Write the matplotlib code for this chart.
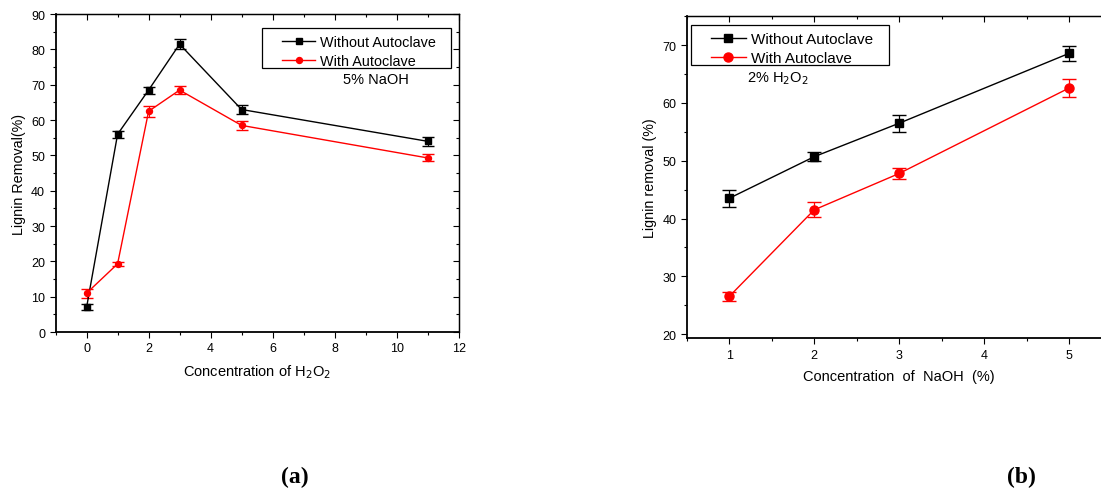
import matplotlib.pyplot as plt
from matplotlib.patches import Rectangle
from matplotlib.ticker import MultipleLocator

# panel (a): H2O2 series at 5% NaOH
h2o2_conc = [0, 1, 2, 3, 5, 11]
a_without = [7.0, 56.0, 68.5, 81.5, 63.0, 54.0]
a_without_err = [0.8, 1.0, 1.0, 1.5, 1.2, 1.2]
a_with = [11.0, 19.3, 62.5, 68.5, 58.5, 49.3]
a_with_err = [1.3, 0.5, 1.5, 1.2, 1.3, 1.0]

# panel (b): NaOH series at 2% H2O2
naoh_conc = [1, 2, 3, 5]
b_without = [43.5, 50.7, 56.5, 68.6]
b_without_err = [1.5, 0.8, 1.5, 1.3]
b_with = [26.5, 41.5, 47.8, 62.6]
b_with_err = [0.8, 1.3, 1.0, 1.6]

plt.rcParams["font.family"] = ["Liberation Sans", "DejaVu Sans"]

fig = plt.figure(figsize=(11.01, 4.89), dpi=100)
ax1 = fig.add_axes([0.0505, 0.319, 0.366, 0.650])
ax2 = fig.add_axes([0.6237, 0.306, 0.386, 0.6585])


def style_axes(ax, xmaj, xmin, ymaj, ymin):
    for side in ["left", "bottom"]:
        ax.spines[side].set_linewidth(1.3)
    for side in ["top", "right"]:
        ax.spines[side].set_linewidth(0.9)
    ax.xaxis.set_major_locator(MultipleLocator(xmaj))
    ax.xaxis.set_minor_locator(MultipleLocator(xmin))
    ax.yaxis.set_major_locator(MultipleLocator(ymaj))
    ax.yaxis.set_minor_locator(MultipleLocator(ymin))
    ax.tick_params(which="both", direction="out", labelsize=9, width=0.8)
    ax.tick_params(which="major", length=4)
    ax.tick_params(which="minor", length=2.5)
    # inward ticks on top and right, like the Origin frame
    top = ax.secondary_xaxis("top")
    right = ax.secondary_yaxis("right")
    top.xaxis.set_major_locator(MultipleLocator(xmaj))
    top.xaxis.set_minor_locator(MultipleLocator(xmin))
    right.yaxis.set_major_locator(MultipleLocator(ymaj))
    right.yaxis.set_minor_locator(MultipleLocator(ymin))
    for sec in (top, right):
        sec.tick_params(which="both", direction="in", width=0.8, labeltop=False,
                        labelright=False)
        sec.tick_params(which="major", length=4)
        sec.tick_params(which="minor", length=2.5)
        for sp in sec.spines.values():
            sp.set_linewidth(0.9)


def legend_box(ax, handles, labels, x0, y0, x1, y1, hx, hy, fs):
    ax.add_patch(Rectangle((x0, y1), x1 - x0, y0 - y1, transform=ax.transAxes,
                           fill=False, edgecolor="black", linewidth=0.9, zorder=5))
    ax.legend(handles, labels, loc="upper left", bbox_to_anchor=(hx, hy), fontsize=fs,
              frameon=False, handlelength=2.3, handletextpad=0.35, borderpad=0,
              borderaxespad=0, labelspacing=0.3, numpoints=1)


e1 = ax1.errorbar(h2o2_conc, a_without, yerr=a_without_err, color="black", marker="s",
                  markersize=3.8, linewidth=1, capsize=4, elinewidth=0.8)
e2 = ax1.errorbar(h2o2_conc, a_with, yerr=a_with_err, color="red", marker="o",
                  markersize=4.3, linewidth=1, capsize=4, elinewidth=0.8)
ax1.set_xlim(-1, 12)
ax1.set_ylim(0, 90)
style_axes(ax1, 2, 1, 10, 5)
ax1.set_xlabel("Concentration of H$_2$O$_2$", fontsize=10.5, labelpad=6)
ax1.set_ylabel("Lignin Removal(%)", fontsize=10.3)
legend_box(ax1, [e1[0], e2[0]], ["Without Autoclave", "With Autoclave"],
           0.513, 0.958, 0.981, 0.832, 0.562, 0.933, 10.4)
ax1.text(0.713, 0.795, "5% NaOH", transform=ax1.transAxes, fontsize=10.5, va="center")

f1 = ax2.errorbar(naoh_conc, b_without, yerr=b_without_err, color="black", marker="s",
                  markersize=5.5, linewidth=1, capsize=5, elinewidth=0.9)
f2 = ax2.errorbar(naoh_conc, b_with, yerr=b_with_err, color="red", marker="o",
                  markersize=6.5, linewidth=1, capsize=5, elinewidth=0.9)
ax2.set_xlim(0.5, 5.5)
ax2.set_ylim(19.25, 75)
style_axes(ax2, 1, 0.5, 10, 5)
ax2.set_xlabel("Concentration  of  NaOH  (%)", fontsize=10.5, labelpad=6)
ax2.set_ylabel("Lignin removal (%)", fontsize=10.3)
legend_box(ax2, [f1[0], f2[0]], ["Without Autoclave", "With Autoclave"],
           0.0094, 0.974, 0.4767, 0.850, 0.057, 0.950, 11)
ax2.text(0.143, 0.81, "2% H$_2$O$_2$", transform=ax2.transAxes, fontsize=10.5, va="center")

fig.text(0.268, 0.012, "(a)", fontsize=17, fontweight="bold", ha="center",
         family=["Liberation Serif", "DejaVu Serif"])
fig.text(0.928, 0.012, "(b)", fontsize=17, fontweight="bold", ha="center",
         family=["Liberation Serif", "DejaVu Serif"])

fig.savefig("out.png", dpi=100)
